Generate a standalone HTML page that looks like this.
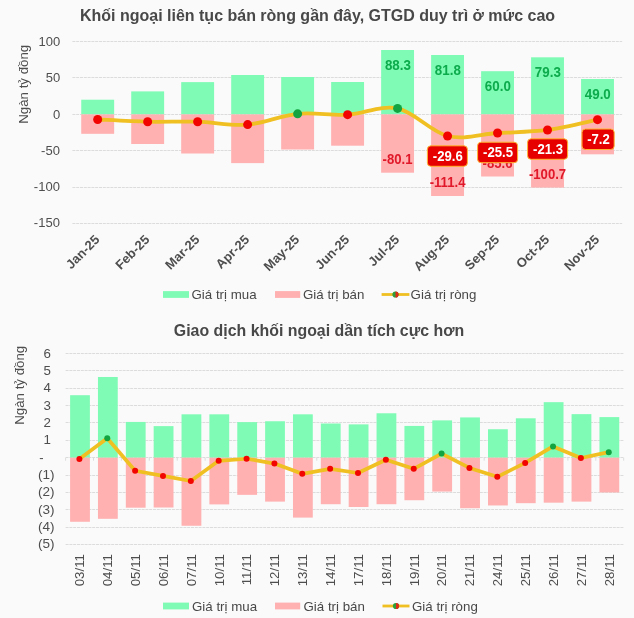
<!DOCTYPE html>
<html lang="vi"><head><meta charset="utf-8"><title>Khối ngoại</title>
<style>html,body{margin:0;padding:0;background:#fafafa}svg{display:block;filter:blur(0.35px)}</style></head>
<body>
<svg width="634" height="618" viewBox="0 0 634 618" font-family='"Liberation Sans", Arial, sans-serif'>
<rect width="634" height="618" fill="#fafafa"/>
<text x="317.5" y="21.2" text-anchor="middle" font-size="16" font-weight="bold" fill="#484848">Khối ngoại liên tục bán ròng gần đây, GTGD duy trì ở mức cao</text>
<line x1="72.4" x2="622.2" y1="41.50" y2="41.50" stroke="#dcdcdc" stroke-width="1" stroke-dasharray="3 0.8"/>
<text x="60.2" y="45.60" text-anchor="end" font-size="13" fill="#4e4e4e">100</text>
<line x1="72.4" x2="622.2" y1="77.50" y2="77.50" stroke="#dcdcdc" stroke-width="1" stroke-dasharray="3 0.8"/>
<text x="60.2" y="81.70" text-anchor="end" font-size="13" fill="#4e4e4e">50</text>
<line x1="72.4" x2="622.2" y1="114.50" y2="114.50" stroke="#dcdcdc" stroke-width="1" stroke-dasharray="3 0.8"/>
<text x="60.2" y="118.80" text-anchor="end" font-size="13" fill="#4e4e4e">0</text>
<line x1="72.4" x2="622.2" y1="150.50" y2="150.50" stroke="#dcdcdc" stroke-width="1" stroke-dasharray="3 0.8"/>
<text x="59.9" y="154.50" text-anchor="end" font-size="13" fill="#4e4e4e">-50</text>
<line x1="72.4" x2="622.2" y1="187.50" y2="187.50" stroke="#dcdcdc" stroke-width="1" stroke-dasharray="3 0.8"/>
<text x="59.9" y="190.60" text-anchor="end" font-size="13" fill="#4e4e4e">-100</text>
<line x1="72.4" x2="622.2" y1="223.50" y2="223.50" stroke="#dcdcdc" stroke-width="1" stroke-dasharray="3 0.8"/>
<text x="59.9" y="226.90" text-anchor="end" font-size="13" fill="#4e4e4e">-150</text>
<text transform="translate(27.8,84.3) rotate(-90)" text-anchor="middle" font-size="13.3" fill="#4e4e4e">Ngàn tỷ đồng</text>
<rect x="81.24" y="99.70" width="32.90" height="14.70" fill="#80fbb5"/>
<rect x="81.24" y="114.40" width="32.90" height="19.40" fill="#ffb0b0"/>
<rect x="131.22" y="91.40" width="32.90" height="23.00" fill="#80fbb5"/>
<rect x="131.22" y="114.40" width="32.90" height="29.60" fill="#ffb0b0"/>
<rect x="181.20" y="82.10" width="32.90" height="32.30" fill="#80fbb5"/>
<rect x="181.20" y="114.40" width="32.90" height="39.10" fill="#ffb0b0"/>
<rect x="231.19" y="75.00" width="32.90" height="39.40" fill="#80fbb5"/>
<rect x="231.19" y="114.40" width="32.90" height="48.70" fill="#ffb0b0"/>
<rect x="281.17" y="77.00" width="32.90" height="37.40" fill="#80fbb5"/>
<rect x="281.17" y="114.40" width="32.90" height="35.10" fill="#ffb0b0"/>
<rect x="331.15" y="82.00" width="32.90" height="32.40" fill="#80fbb5"/>
<rect x="331.15" y="114.40" width="32.90" height="31.30" fill="#ffb0b0"/>
<rect x="381.13" y="50.00" width="32.90" height="64.40" fill="#80fbb5"/>
<rect x="381.13" y="114.40" width="32.90" height="58.30" fill="#ffb0b0"/>
<rect x="431.11" y="55.00" width="32.90" height="59.40" fill="#80fbb5"/>
<rect x="431.11" y="114.40" width="32.90" height="81.60" fill="#ffb0b0"/>
<rect x="481.10" y="71.20" width="32.90" height="43.20" fill="#80fbb5"/>
<rect x="481.10" y="114.40" width="32.90" height="62.10" fill="#ffb0b0"/>
<rect x="531.08" y="57.30" width="32.90" height="57.10" fill="#80fbb5"/>
<rect x="531.08" y="114.40" width="32.90" height="73.20" fill="#ffb0b0"/>
<rect x="581.06" y="79.00" width="32.90" height="35.40" fill="#80fbb5"/>
<rect x="581.06" y="114.40" width="32.90" height="39.90" fill="#ffb0b0"/>
<text transform="translate(397.88,69.60) scale(0.955,1)" text-anchor="middle" font-size="14" font-weight="bold" fill="#0cab4c">88.3</text>
<text transform="translate(447.86,74.60) scale(0.955,1)" text-anchor="middle" font-size="14" font-weight="bold" fill="#0cab4c">81.8</text>
<text transform="translate(497.85,90.80) scale(0.955,1)" text-anchor="middle" font-size="14" font-weight="bold" fill="#0cab4c">60.0</text>
<text transform="translate(547.83,76.90) scale(0.955,1)" text-anchor="middle" font-size="14" font-weight="bold" fill="#0cab4c">79.3</text>
<text transform="translate(597.81,98.60) scale(0.955,1)" text-anchor="middle" font-size="14" font-weight="bold" fill="#0cab4c">49.0</text>
<text transform="translate(397.58,163.90) scale(0.94,1)" text-anchor="middle" font-size="14" font-weight="bold" fill="#e0182a">-80.1</text>
<text transform="translate(447.56,187.20) scale(0.94,1)" text-anchor="middle" font-size="14" font-weight="bold" fill="#e0182a">-111.4</text>
<text transform="translate(497.55,167.70) scale(0.94,1)" text-anchor="middle" font-size="14" font-weight="bold" fill="#e0182a">-85.6</text>
<text transform="translate(547.53,178.80) scale(0.94,1)" text-anchor="middle" font-size="14" font-weight="bold" fill="#e0182a">-100.7</text>
<path d="M97.69,119.51 C106.02,119.88 131.01,121.34 147.67,121.70 C164.33,122.06 180.99,121.21 197.65,121.70 C214.32,122.19 230.98,125.93 247.64,124.62 C264.30,123.31 280.96,115.47 297.62,113.82 C314.28,112.16 330.94,115.59 347.60,114.69 C364.26,113.79 380.92,104.86 397.58,108.41 C414.24,111.97 430.90,131.91 447.56,136.01 C464.22,140.11 480.88,134.02 497.55,133.02 C514.21,132.01 530.87,132.18 547.53,129.95 C564.19,127.72 589.18,121.37 597.51,119.66" fill="none" stroke="#f0bf22" stroke-width="3.8" stroke-linejoin="round" stroke-linecap="round"/>
<circle cx="97.69" cy="119.51" r="4.5" fill="#f20500"/>
<circle cx="147.67" cy="121.70" r="4.5" fill="#f20500"/>
<circle cx="197.65" cy="121.70" r="4.5" fill="#f20500"/>
<circle cx="247.64" cy="124.62" r="4.5" fill="#f20500"/>
<circle cx="297.62" cy="113.82" r="4.5" fill="#12a440"/>
<circle cx="347.60" cy="114.69" r="4.5" fill="#f20500"/>
<circle cx="397.58" cy="108.41" r="4.5" fill="#12a440"/>
<circle cx="447.56" cy="136.01" r="4.5" fill="#f20500"/>
<circle cx="497.55" cy="133.02" r="4.5" fill="#f20500"/>
<circle cx="547.53" cy="129.95" r="4.5" fill="#f20500"/>
<circle cx="597.51" cy="119.66" r="4.5" fill="#f20500"/>
<rect x="427.40" y="145.80" width="40.00" height="20.5" rx="3.5" fill="#e60000" stroke="#ffb733" stroke-width="1"/>
<text transform="translate(447.80,160.80) scale(0.94,1)" text-anchor="middle" font-size="14" font-weight="bold" fill="#ffffff">-29.6</text>
<rect x="477.60" y="142.20" width="40.00" height="20.5" rx="3.5" fill="#e60000" stroke="#ffb733" stroke-width="1"/>
<text transform="translate(498.00,157.20) scale(0.94,1)" text-anchor="middle" font-size="14" font-weight="bold" fill="#ffffff">-25.5</text>
<rect x="527.60" y="138.80" width="40.00" height="20.5" rx="3.5" fill="#e60000" stroke="#ffb733" stroke-width="1"/>
<text transform="translate(548.00,153.80) scale(0.94,1)" text-anchor="middle" font-size="14" font-weight="bold" fill="#ffffff">-21.3</text>
<rect x="582.00" y="129.00" width="32.20" height="20.5" rx="3.5" fill="#e60000" stroke="#ffb733" stroke-width="1"/>
<text transform="translate(598.50,144.00) scale(0.94,1)" text-anchor="middle" font-size="14" font-weight="bold" fill="#ffffff">-7.2</text>
<text transform="translate(100.29,240.50) rotate(-45)" text-anchor="end" font-size="13" font-weight="bold" fill="#4e4e4e">Jan-25</text>
<text transform="translate(150.27,240.50) rotate(-45)" text-anchor="end" font-size="13" font-weight="bold" fill="#4e4e4e">Feb-25</text>
<text transform="translate(200.25,240.50) rotate(-45)" text-anchor="end" font-size="13" font-weight="bold" fill="#4e4e4e">Mar-25</text>
<text transform="translate(250.24,240.50) rotate(-45)" text-anchor="end" font-size="13" font-weight="bold" fill="#4e4e4e">Apr-25</text>
<text transform="translate(300.22,240.50) rotate(-45)" text-anchor="end" font-size="13" font-weight="bold" fill="#4e4e4e">May-25</text>
<text transform="translate(350.20,240.50) rotate(-45)" text-anchor="end" font-size="13" font-weight="bold" fill="#4e4e4e">Jun-25</text>
<text transform="translate(400.18,240.50) rotate(-45)" text-anchor="end" font-size="13" font-weight="bold" fill="#4e4e4e">Jul-25</text>
<text transform="translate(450.16,240.50) rotate(-45)" text-anchor="end" font-size="13" font-weight="bold" fill="#4e4e4e">Aug-25</text>
<text transform="translate(500.15,240.50) rotate(-45)" text-anchor="end" font-size="13" font-weight="bold" fill="#4e4e4e">Sep-25</text>
<text transform="translate(550.13,240.50) rotate(-45)" text-anchor="end" font-size="13" font-weight="bold" fill="#4e4e4e">Oct-25</text>
<text transform="translate(600.11,240.50) rotate(-45)" text-anchor="end" font-size="13" font-weight="bold" fill="#4e4e4e">Nov-25</text>
<rect x="163.00" y="291.10" width="26" height="6.8" fill="#80fbb5"/>
<text x="191.50" y="299.10" font-size="13.3" fill="#484848">Giá trị mua</text>
<rect x="275.00" y="291.10" width="25.2" height="6.8" fill="#ffb0b0"/>
<text x="303.00" y="299.10" font-size="13.3" fill="#484848">Giá trị bán</text>
<line x1="381.60" x2="409.40" y1="294.50" y2="294.50" stroke="#f0bf22" stroke-width="2.8"/>
<circle cx="395.50" cy="294.50" r="3.1" fill="#2f9e3a"/>
<path d="M395.50,291.40 a3.1,3.1 0 0 1 0,6.2 z" fill="#e02a18"/>
<text x="410.60" y="299.10" font-size="13.3" fill="#484848">Giá trị ròng</text>
<text x="319" y="335.6" text-anchor="middle" font-size="15.9" font-weight="bold" fill="#484848">Giao dịch khối ngoại dần tích cực hơn</text>
<line x1="65.6" x2="623.7" y1="353.50" y2="353.50" stroke="#dcdcdc" stroke-width="1" stroke-dasharray="3 0.8"/>
<text x="51" y="357.54" text-anchor="end" font-size="13.3" fill="#4e4e4e">6</text>
<line x1="65.6" x2="623.7" y1="370.50" y2="370.50" stroke="#dcdcdc" stroke-width="1" stroke-dasharray="3 0.8"/>
<text x="51" y="374.90" text-anchor="end" font-size="13.3" fill="#4e4e4e">5</text>
<line x1="65.6" x2="623.7" y1="388.50" y2="388.50" stroke="#dcdcdc" stroke-width="1" stroke-dasharray="3 0.8"/>
<text x="51" y="392.26" text-anchor="end" font-size="13.3" fill="#4e4e4e">4</text>
<line x1="65.6" x2="623.7" y1="405.50" y2="405.50" stroke="#dcdcdc" stroke-width="1" stroke-dasharray="3 0.8"/>
<text x="51" y="409.62" text-anchor="end" font-size="13.3" fill="#4e4e4e">3</text>
<line x1="65.6" x2="623.7" y1="422.50" y2="422.50" stroke="#dcdcdc" stroke-width="1" stroke-dasharray="3 0.8"/>
<text x="51" y="426.98" text-anchor="end" font-size="13.3" fill="#4e4e4e">2</text>
<line x1="65.6" x2="623.7" y1="440.50" y2="440.50" stroke="#dcdcdc" stroke-width="1" stroke-dasharray="3 0.8"/>
<text x="51" y="444.34" text-anchor="end" font-size="13.3" fill="#4e4e4e">1</text>
<line x1="65.6" x2="623.7" y1="457.50" y2="457.50" stroke="#dcdcdc" stroke-width="1" stroke-dasharray="3 0.8"/>
<text x="43.5" y="462.00" text-anchor="end" font-size="13" fill="#4e4e4e">-</text>
<line x1="65.6" x2="623.7" y1="475.50" y2="475.50" stroke="#dcdcdc" stroke-width="1" stroke-dasharray="3 0.8"/>
<text x="54.6" y="478.86" text-anchor="end" font-size="13.5" fill="#4e4e4e">(1)</text>
<line x1="65.6" x2="623.7" y1="492.50" y2="492.50" stroke="#dcdcdc" stroke-width="1" stroke-dasharray="3 0.8"/>
<text x="54.6" y="496.22" text-anchor="end" font-size="13.5" fill="#4e4e4e">(2)</text>
<line x1="65.6" x2="623.7" y1="509.50" y2="509.50" stroke="#dcdcdc" stroke-width="1" stroke-dasharray="3 0.8"/>
<text x="54.6" y="513.58" text-anchor="end" font-size="13.5" fill="#4e4e4e">(3)</text>
<line x1="65.6" x2="623.7" y1="527.50" y2="527.50" stroke="#dcdcdc" stroke-width="1" stroke-dasharray="3 0.8"/>
<text x="54.6" y="530.94" text-anchor="end" font-size="13.5" fill="#4e4e4e">(4)</text>
<line x1="65.6" x2="623.7" y1="544.50" y2="544.50" stroke="#dcdcdc" stroke-width="1" stroke-dasharray="3 0.8"/>
<text x="54.6" y="548.30" text-anchor="end" font-size="13.5" fill="#4e4e4e">(5)</text>
<text transform="translate(24,385.3) rotate(-90)" text-anchor="middle" font-size="13.3" fill="#4e4e4e">Ngàn tỷ đồng</text>
<line x1="65.60" x2="65.60" y1="457.70" y2="460.70" stroke="#dcdcdc" stroke-width="1"/>
<line x1="93.50" x2="93.50" y1="457.70" y2="460.70" stroke="#dcdcdc" stroke-width="1"/>
<line x1="121.41" x2="121.41" y1="457.70" y2="460.70" stroke="#dcdcdc" stroke-width="1"/>
<line x1="149.31" x2="149.31" y1="457.70" y2="460.70" stroke="#dcdcdc" stroke-width="1"/>
<line x1="177.22" x2="177.22" y1="457.70" y2="460.70" stroke="#dcdcdc" stroke-width="1"/>
<line x1="205.12" x2="205.12" y1="457.70" y2="460.70" stroke="#dcdcdc" stroke-width="1"/>
<line x1="233.03" x2="233.03" y1="457.70" y2="460.70" stroke="#dcdcdc" stroke-width="1"/>
<line x1="260.94" x2="260.94" y1="457.70" y2="460.70" stroke="#dcdcdc" stroke-width="1"/>
<line x1="288.84" x2="288.84" y1="457.70" y2="460.70" stroke="#dcdcdc" stroke-width="1"/>
<line x1="316.75" x2="316.75" y1="457.70" y2="460.70" stroke="#dcdcdc" stroke-width="1"/>
<line x1="344.65" x2="344.65" y1="457.70" y2="460.70" stroke="#dcdcdc" stroke-width="1"/>
<line x1="372.56" x2="372.56" y1="457.70" y2="460.70" stroke="#dcdcdc" stroke-width="1"/>
<line x1="400.46" x2="400.46" y1="457.70" y2="460.70" stroke="#dcdcdc" stroke-width="1"/>
<line x1="428.37" x2="428.37" y1="457.70" y2="460.70" stroke="#dcdcdc" stroke-width="1"/>
<line x1="456.27" x2="456.27" y1="457.70" y2="460.70" stroke="#dcdcdc" stroke-width="1"/>
<line x1="484.18" x2="484.18" y1="457.70" y2="460.70" stroke="#dcdcdc" stroke-width="1"/>
<line x1="512.08" x2="512.08" y1="457.70" y2="460.70" stroke="#dcdcdc" stroke-width="1"/>
<line x1="539.99" x2="539.99" y1="457.70" y2="460.70" stroke="#dcdcdc" stroke-width="1"/>
<line x1="567.89" x2="567.89" y1="457.70" y2="460.70" stroke="#dcdcdc" stroke-width="1"/>
<line x1="595.80" x2="595.80" y1="457.70" y2="460.70" stroke="#dcdcdc" stroke-width="1"/>
<line x1="623.70" x2="623.70" y1="457.70" y2="460.70" stroke="#dcdcdc" stroke-width="1"/>
<rect x="70.10" y="395.20" width="19.80" height="62.50" fill="#80fbb5"/>
<rect x="70.10" y="457.70" width="19.80" height="64.06" fill="#ffb0b0"/>
<rect x="97.96" y="376.98" width="19.80" height="80.72" fill="#80fbb5"/>
<rect x="97.96" y="457.70" width="19.80" height="61.11" fill="#ffb0b0"/>
<rect x="125.82" y="421.94" width="19.80" height="35.76" fill="#80fbb5"/>
<rect x="125.82" y="457.70" width="19.80" height="50.00" fill="#ffb0b0"/>
<rect x="153.68" y="426.10" width="19.80" height="31.60" fill="#80fbb5"/>
<rect x="153.68" y="457.70" width="19.80" height="49.82" fill="#ffb0b0"/>
<rect x="181.54" y="414.30" width="19.80" height="43.40" fill="#80fbb5"/>
<rect x="181.54" y="457.70" width="19.80" height="68.05" fill="#ffb0b0"/>
<rect x="209.40" y="414.30" width="19.80" height="43.40" fill="#80fbb5"/>
<rect x="209.40" y="457.70" width="19.80" height="46.70" fill="#ffb0b0"/>
<rect x="237.26" y="422.11" width="19.80" height="35.59" fill="#80fbb5"/>
<rect x="237.26" y="457.70" width="19.80" height="37.15" fill="#ffb0b0"/>
<rect x="265.12" y="421.24" width="19.80" height="36.46" fill="#80fbb5"/>
<rect x="265.12" y="457.70" width="19.80" height="43.92" fill="#ffb0b0"/>
<rect x="292.98" y="414.30" width="19.80" height="43.40" fill="#80fbb5"/>
<rect x="292.98" y="457.70" width="19.80" height="59.89" fill="#ffb0b0"/>
<rect x="320.84" y="423.50" width="19.80" height="34.20" fill="#80fbb5"/>
<rect x="320.84" y="457.70" width="19.80" height="46.52" fill="#ffb0b0"/>
<rect x="348.70" y="424.37" width="19.80" height="33.33" fill="#80fbb5"/>
<rect x="348.70" y="457.70" width="19.80" height="49.30" fill="#ffb0b0"/>
<rect x="376.56" y="413.26" width="19.80" height="44.44" fill="#80fbb5"/>
<rect x="376.56" y="457.70" width="19.80" height="46.52" fill="#ffb0b0"/>
<rect x="404.42" y="425.93" width="19.80" height="31.77" fill="#80fbb5"/>
<rect x="404.42" y="457.70" width="19.80" height="42.53" fill="#ffb0b0"/>
<rect x="432.28" y="420.38" width="19.80" height="37.32" fill="#80fbb5"/>
<rect x="432.28" y="457.70" width="19.80" height="33.85" fill="#ffb0b0"/>
<rect x="460.14" y="417.42" width="19.80" height="40.28" fill="#80fbb5"/>
<rect x="460.14" y="457.70" width="19.80" height="50.52" fill="#ffb0b0"/>
<rect x="488.00" y="429.23" width="19.80" height="28.47" fill="#80fbb5"/>
<rect x="488.00" y="457.70" width="19.80" height="47.74" fill="#ffb0b0"/>
<rect x="515.86" y="418.29" width="19.80" height="39.41" fill="#80fbb5"/>
<rect x="515.86" y="457.70" width="19.80" height="45.48" fill="#ffb0b0"/>
<rect x="543.72" y="402.15" width="19.80" height="55.55" fill="#80fbb5"/>
<rect x="543.72" y="457.70" width="19.80" height="44.96" fill="#ffb0b0"/>
<rect x="571.58" y="414.13" width="19.80" height="43.57" fill="#80fbb5"/>
<rect x="571.58" y="457.70" width="19.80" height="43.92" fill="#ffb0b0"/>
<rect x="599.44" y="417.08" width="19.80" height="40.62" fill="#80fbb5"/>
<rect x="599.44" y="457.70" width="19.80" height="34.72" fill="#ffb0b0"/>
<path d="M79.40,459.09 C79.40,459.09 107.26,438.26 107.26,438.26 C107.26,438.26 135.12,470.72 135.12,470.72 C135.12,470.72 162.98,475.93 162.98,475.93 C162.98,475.93 190.84,480.96 190.84,480.96 C190.84,480.96 218.70,460.82 218.70,460.82 C218.70,460.82 246.56,458.74 246.56,458.74 C246.56,458.74 274.42,463.60 274.42,463.60 C274.42,463.60 302.28,473.84 302.28,473.84 C302.28,473.84 330.14,468.81 330.14,468.81 C330.14,468.81 358.00,472.98 358.00,472.98 C358.00,472.98 385.86,459.78 385.86,459.78 C385.86,459.78 413.72,468.81 413.72,468.81 C413.72,468.81 441.58,453.53 441.58,453.53 C441.58,453.53 469.44,467.94 469.44,467.94 C469.44,467.94 497.30,476.80 497.30,476.80 C497.30,476.80 525.16,462.91 525.16,462.91 C525.16,462.91 553.02,446.42 553.02,446.42 C553.02,446.42 580.88,458.05 580.88,458.05 C580.88,458.05 608.74,452.14 608.74,452.14" fill="none" stroke="#f0bf22" stroke-width="3.7" stroke-linejoin="round" stroke-linecap="round"/>
<circle cx="79.40" cy="459.09" r="3.0" fill="#f20500"/>
<circle cx="107.26" cy="438.26" r="3.0" fill="#12a440"/>
<circle cx="135.12" cy="470.72" r="3.0" fill="#f20500"/>
<circle cx="162.98" cy="475.93" r="3.0" fill="#f20500"/>
<circle cx="190.84" cy="480.96" r="3.0" fill="#f20500"/>
<circle cx="218.70" cy="460.82" r="3.0" fill="#f20500"/>
<circle cx="246.56" cy="458.74" r="3.0" fill="#f20500"/>
<circle cx="274.42" cy="463.60" r="3.0" fill="#f20500"/>
<circle cx="302.28" cy="473.84" r="3.0" fill="#f20500"/>
<circle cx="330.14" cy="468.81" r="3.0" fill="#f20500"/>
<circle cx="358.00" cy="472.98" r="3.0" fill="#f20500"/>
<circle cx="385.86" cy="459.78" r="3.0" fill="#f20500"/>
<circle cx="413.72" cy="468.81" r="3.0" fill="#f20500"/>
<circle cx="441.58" cy="453.53" r="3.0" fill="#12a440"/>
<circle cx="469.44" cy="467.94" r="3.0" fill="#f20500"/>
<circle cx="497.30" cy="476.80" r="3.0" fill="#f20500"/>
<circle cx="525.16" cy="462.91" r="3.0" fill="#f20500"/>
<circle cx="553.02" cy="446.42" r="3.0" fill="#12a440"/>
<circle cx="580.88" cy="458.05" r="3.0" fill="#f20500"/>
<circle cx="608.74" cy="452.14" r="3.0" fill="#12a440"/>
<text transform="translate(84.20,554.00) rotate(-90)" text-anchor="end" font-size="13.3" fill="#4e4e4e">03/11</text>
<text transform="translate(112.06,554.00) rotate(-90)" text-anchor="end" font-size="13.3" fill="#4e4e4e">04/11</text>
<text transform="translate(139.92,554.00) rotate(-90)" text-anchor="end" font-size="13.3" fill="#4e4e4e">05/11</text>
<text transform="translate(167.78,554.00) rotate(-90)" text-anchor="end" font-size="13.3" fill="#4e4e4e">06/11</text>
<text transform="translate(195.64,554.00) rotate(-90)" text-anchor="end" font-size="13.3" fill="#4e4e4e">07/11</text>
<text transform="translate(223.50,554.00) rotate(-90)" text-anchor="end" font-size="13.3" fill="#4e4e4e">10/11</text>
<text transform="translate(251.36,554.00) rotate(-90)" text-anchor="end" font-size="13.3" fill="#4e4e4e">11/11</text>
<text transform="translate(279.22,554.00) rotate(-90)" text-anchor="end" font-size="13.3" fill="#4e4e4e">12/11</text>
<text transform="translate(307.08,554.00) rotate(-90)" text-anchor="end" font-size="13.3" fill="#4e4e4e">13/11</text>
<text transform="translate(334.94,554.00) rotate(-90)" text-anchor="end" font-size="13.3" fill="#4e4e4e">14/11</text>
<text transform="translate(362.80,554.00) rotate(-90)" text-anchor="end" font-size="13.3" fill="#4e4e4e">17/11</text>
<text transform="translate(390.66,554.00) rotate(-90)" text-anchor="end" font-size="13.3" fill="#4e4e4e">18/11</text>
<text transform="translate(418.52,554.00) rotate(-90)" text-anchor="end" font-size="13.3" fill="#4e4e4e">19/11</text>
<text transform="translate(446.38,554.00) rotate(-90)" text-anchor="end" font-size="13.3" fill="#4e4e4e">20/11</text>
<text transform="translate(474.24,554.00) rotate(-90)" text-anchor="end" font-size="13.3" fill="#4e4e4e">21/11</text>
<text transform="translate(502.10,554.00) rotate(-90)" text-anchor="end" font-size="13.3" fill="#4e4e4e">24/11</text>
<text transform="translate(529.96,554.00) rotate(-90)" text-anchor="end" font-size="13.3" fill="#4e4e4e">25/11</text>
<text transform="translate(557.82,554.00) rotate(-90)" text-anchor="end" font-size="13.3" fill="#4e4e4e">26/11</text>
<text transform="translate(585.68,554.00) rotate(-90)" text-anchor="end" font-size="13.3" fill="#4e4e4e">27/11</text>
<text transform="translate(613.54,554.00) rotate(-90)" text-anchor="end" font-size="13.3" fill="#4e4e4e">28/11</text>
<rect x="163.00" y="602.60" width="26" height="6.8" fill="#80fbb5"/>
<text x="192.00" y="610.90" font-size="13.3" fill="#484848">Giá trị mua</text>
<rect x="275.00" y="602.60" width="25.2" height="6.8" fill="#ffb0b0"/>
<text x="303.50" y="610.90" font-size="13.3" fill="#484848">Giá trị bán</text>
<line x1="382.50" x2="409.50" y1="606.00" y2="606.00" stroke="#f0bf22" stroke-width="2.8"/>
<circle cx="396.00" cy="606.00" r="3.1" fill="#2f9e3a"/>
<path d="M396.00,602.90 a3.1,3.1 0 0 1 0,6.2 z" fill="#e02a18"/>
<text x="412.00" y="610.90" font-size="13.3" fill="#484848">Giá trị ròng</text>
</svg>
</body></html>
